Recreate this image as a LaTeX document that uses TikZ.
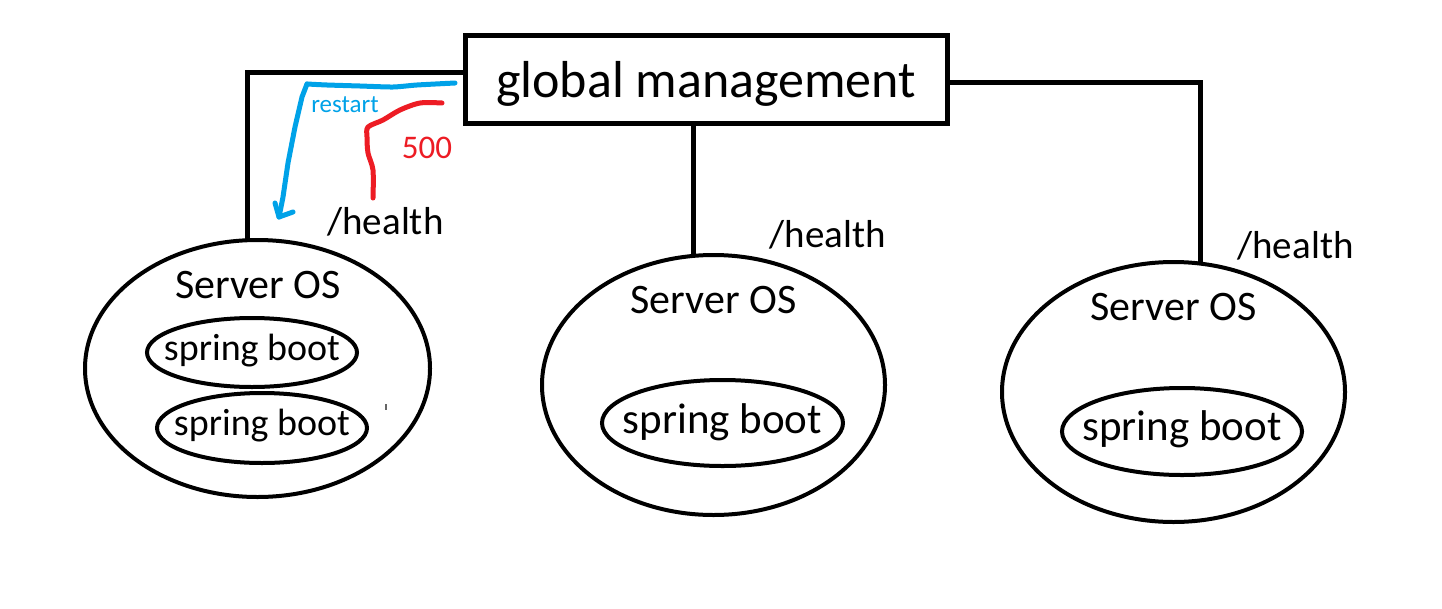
\documentclass[tikz,border=0pt]{standalone}
\usepackage{fontspec}
\setmainfont{Carlito}
\usetikzlibrary{shapes.geometric}
\definecolor{pblue}{RGB}{0,162,232}
\definecolor{pred}{RGB}{237,28,36}
\begin{document}
\begin{tikzpicture}[x=1pt,y=-1pt,
  conn/.style={line width=5pt},
  mgmt/.style={draw, line width=5pt, inner sep=0pt, outer sep=0pt, minimum width=482pt, minimum height=88pt, text height=36pt, text depth=0pt, font=\fontsize{52}{60}\selectfont},
  osbox/.style={ellipse, draw, line width=4pt, inner sep=0pt, outer sep=0pt},
  sbbox/.style={ellipse, draw, line width=4pt, inner sep=0pt, outer sep=0pt, text depth=0pt},
  oslabel/.style={anchor=base, inner sep=0pt, font=\fontsize{42}{50}\selectfont},
  hlabel/.style={anchor=base, inner sep=0pt, font=\fontsize{39}{46}\selectfont},
  handline/.style={line width=5pt, line cap=round, line join=round}
]
\useasboundingbox[fill=white] (0,0) rectangle (1442,608);

% management box
\node[mgmt] (gm) at (706,79) {global management};

% server OS ellipses
\node[osbox, minimum width=345pt, minimum height=257pt] (os1) at (257.5,368.5) {};
\node[osbox, minimum width=343pt, minimum height=260pt] (os2) at (713.5,385) {};
\node[osbox, minimum width=343pt, minimum height=260pt] (os3) at (1173.5,392) {};

\node[oslabel] (osl1) at (258,298) {Server OS};
\node[oslabel] (osl2) at (713.5,313) {Server OS};
\node[oslabel] (osl3) at (1173.5,320) {Server OS};

% spring boot ellipses
\node[sbbox, minimum width=210pt, minimum height=69pt, text height=15pt, font=\fontsize{38}{44}\selectfont] (sb1) at (252,352.5) {\makebox[0pt]{spring boot}};
\node[sbbox, minimum width=210pt, minimum height=70pt, text height=14pt, font=\fontsize{38}{44}\selectfont] (sb2) at (262,428) {\makebox[0pt]{spring boot}};
\node[sbbox, minimum width=241pt, minimum height=86pt, text height=20pt, font=\fontsize{43}{50}\selectfont] (sb3) at (722.5,423) {\makebox[0pt]{spring boot}};
\node[sbbox, minimum width=240pt, minimum height=87pt, text height=17pt, font=\fontsize{43}{50}\selectfont] (sb4) at (1182,431.5) {\makebox[0pt]{spring boot}};

% /health labels
\node[hlabel] (h1) at (385.5,234) {/health};
\node[hlabel] (h2) at (828,247) {/health};
\node[hlabel] (h3) at (1295.5,258) {/health};

% connectors
\draw[conn] ([yshift=7pt]gm.west) -| ([xshift=-10.5pt]os1.north);
\draw[conn] ([xshift=-13pt]gm.south) -- ([xshift=-13pt]gm.south |- os2.north);
\draw[conn] ([yshift=-3pt]gm.east) -| ([xshift=26.5pt]os3.north);

% hand-drawn restart arrow (blue)
\coordinate (bstart) at (455,83);
\coordinate (bend) at (279,217);
\draw[handline, pblue] plot[smooth, tension=0.4] coordinates {(bstart) (417,85) (393,87) (360,86) (327,85) (307,84)};
\draw[handline, pblue] (307,84) -- (302,97) -- (295,127) -- (288,163) -- (283,197) -- (bend);
\draw[handline, pblue] (275,203) -- (bend) -- (293,212);
\node[anchor=base, inner sep=0pt, text=pblue, font=\fontsize{25}{30}\selectfont] (rs) at (345,112) {restart};

% hand-drawn 500 response (red)
\coordinate (rstart) at (442,103);
\coordinate (rend) at (373,198);
\draw[handline, pred] plot[smooth, tension=0.5] coordinates {(rstart) (420,103) (400,110) (383,120) (368,127) (367,137) (368,153) (373,170) (rend)};
\node[anchor=base, inner sep=0pt, text=pred, font=\fontsize{33}{40}\selectfont] (n500) at (427,158) {500};

% stray tick mark
\draw[line width=1.5pt, black!60] (386,404) -- (386,410);
\end{tikzpicture}
\end{document}
